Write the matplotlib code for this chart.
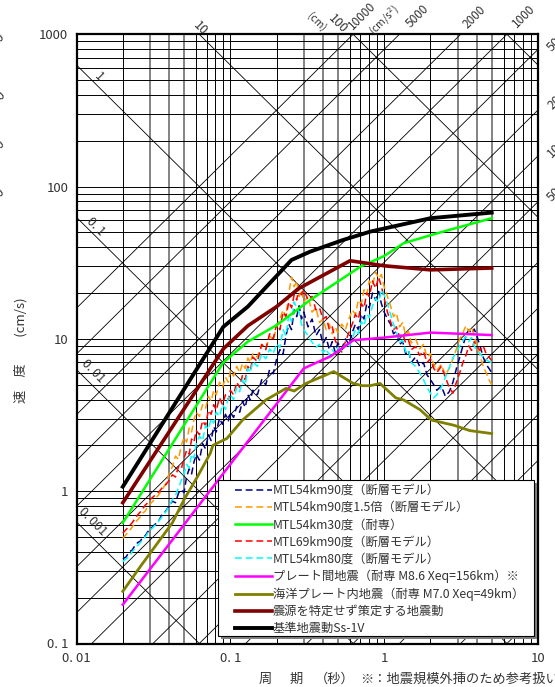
"""Tripartite pseudo-velocity response spectrum (vertical), MTL / plate quakes vs Ss-1V."""
import numpy as np
import matplotlib
matplotlib.use("Agg")
import matplotlib.pyplot as plt
from matplotlib.patches import Rectangle

plt.rcParams['font.family'] = ['Noto Sans CJK JP', 'DejaVu Sans']

# ---- fault-model spectra: period (s) and pseudo velocity (cm/s) ----
T_fm = [0.02, 0.021, 0.022, 0.023, 0.024, 0.025, 0.026, 0.027, 0.028, 0.029, 0.03,
        0.032, 0.034, 0.036, 0.038, 0.04, 0.042, 0.044, 0.046, 0.048, 0.05, 0.052, 0.054,
        0.056, 0.058, 0.06,
        0.063, 0.066, 0.069, 0.072, 0.075, 0.078, 0.081,
        0.085, 0.089, 0.093, 0.097,
        0.1, 0.105, 0.11, 0.115, 0.12, 0.125, 0.13, 0.135, 0.14,
        0.15, 0.16, 0.17, 0.18, 0.19, 0.2, 0.21, 0.22, 0.23, 0.24, 0.25, 0.26, 0.27, 0.28,
        0.29, 0.3,
        0.32, 0.34, 0.36, 0.38, 0.4, 0.42, 0.44, 0.46, 0.48, 0.5,
        0.53, 0.56, 0.59, 0.62, 0.65, 0.68, 0.71, 0.74, 0.77, 0.8,
        0.84, 0.88, 0.92, 0.96, 1.0,
        1.05, 1.1, 1.15, 1.2,
        1.26, 1.32, 1.38, 1.44, 1.5,
        1.6, 1.7, 1.8, 1.9, 2.0, 2.1, 2.2,
        2.35, 2.5, 2.65, 2.8, 2.95, 3.1, 3.25, 3.4, 3.55, 3.7, 3.85, 4.0,
        4.2, 4.4, 4.6, 4.8, 5.0]
V_mtl54_90 = [0.36, 0.37, 0.40, 0.41, 0.44, 0.46, 0.47, 0.50, 0.51, 0.54, 0.56,
              0.60, 0.63, 0.70, 0.74, 0.80, 0.86, 0.84, 0.97, 1.02, 0.98, 1.25, 1.40,
              1.30, 1.55, 1.75,
              1.60, 2.05, 1.90, 2.35, 2.15, 2.65, 2.45,
              3.00, 2.75, 3.20, 2.90,
              3.30, 3.05, 3.60, 3.30, 3.90, 3.55, 4.30, 3.95, 4.60,
              4.30, 5.40, 5.00, 6.30, 5.90, 7.40, 8.50, 7.90, 10.5, 12.5, 11.5, 15.5, 14.0, 16.5,
              13.5, 15.0,
              12.0, 13.5, 10.5, 11.5, 9.3, 10.2, 8.5, 9.6, 8.2, 9.4,
              8.6, 10.0, 9.2, 11.0, 12.5, 11.5, 14.5, 13.5, 17.0, 16.0,
              20.0, 18.0, 20.5, 17.0, 15.0,
              13.5, 12.5, 10.8, 11.2,
              9.2, 9.6, 8.0, 8.4, 7.0,
              7.6, 6.6, 7.0, 5.8, 5.4, 5.0, 4.6,
              4.9, 4.2, 4.5, 5.2, 6.4, 7.6, 9.0, 10.5, 11.5, 10.8, 11.6, 10.5,
              9.0, 7.6, 6.8, 6.4, 6.0]
V_mtl54_90x15 = [0.49, 0.52, 0.55, 0.58, 0.62, 0.65, 0.68, 0.72, 0.74, 0.79, 0.82,
                 0.88, 0.94, 1.02, 1.12, 1.30, 1.45, 1.70, 1.62, 2.00, 2.25, 2.10, 2.60,
                 2.45, 2.95, 3.30,
                 3.10, 3.70, 3.50, 4.20, 3.90, 4.60, 4.30,
                 5.20, 4.80, 5.60, 5.20,
                 6.20, 5.70, 6.60, 6.00, 6.90, 6.40, 7.50, 7.00, 8.00,
                 7.60, 9.20, 8.60, 10.5, 9.8, 12.0, 13.5, 15.5, 14.0, 20.0, 25.5, 22.0, 24.0,
                 19.0, 21.0, 17.5,
                 19.0, 15.0, 16.0, 12.8, 13.5, 11.5, 12.5, 10.8, 12.0, 11.0,
                 12.5, 11.5, 13.5, 15.5, 14.5, 18.0, 17.0, 21.0, 19.5, 24.0,
                 22.5, 27.5, 25.0, 26.5, 22.0,
                 19.0, 16.5, 14.0, 14.8,
                 12.0, 12.8, 10.5, 11.2, 9.4,
                 10.0, 8.6, 9.2, 7.6, 8.0, 6.8, 6.2,
                 6.8, 5.8, 6.4, 7.4, 8.6, 10.0, 11.0, 12.2, 11.2, 12.0, 10.5, 9.0,
                 7.8, 6.6, 6.0, 5.4, 5.0]
V_mtl69_90 = [0.53, 0.56, 0.59, 0.62, 0.66, 0.70, 0.73, 0.77, 0.81, 0.84, 0.88,
              0.93, 0.98, 1.05, 1.10, 1.18, 1.28, 1.24, 1.45, 1.40, 1.65, 1.85, 1.75,
              2.20, 2.10, 2.50,
              2.35, 2.90, 2.70, 3.40, 3.20, 3.70, 3.40,
              4.10, 3.70, 4.30, 3.95,
              4.60, 4.30, 5.20, 4.80, 5.80, 5.40, 6.60, 6.20, 7.60,
              7.10, 9.20, 8.50, 10.8, 10.0, 12.5, 11.5, 15.0, 14.0, 17.5, 16.0, 19.5, 18.0,
              22.0, 19.5, 21.0,
              18.0, 19.0, 15.5, 16.0, 13.5, 14.0, 11.5, 12.0, 9.8, 9.0,
              8.2, 9.6, 11.0, 12.5, 14.5, 13.5, 17.0, 16.0, 20.0, 19.0,
              24.0, 21.5, 25.5, 22.0, 18.5,
              15.0, 13.0, 11.5, 12.0,
              10.3, 10.8, 9.4, 9.8, 8.5,
              8.9, 7.8, 8.3, 7.0, 7.4, 6.4, 6.0,
              6.6, 5.6, 4.8, 4.4, 5.2, 6.0, 7.0, 7.8, 9.0, 8.4, 9.6, 9.0,
              8.4, 9.0, 8.0, 7.6, 7.2]
V_mtl54_80 = [0.345, 0.36, 0.37, 0.40, 0.42, 0.44, 0.46, 0.48, 0.50, 0.53, 0.55,
              0.59, 0.63, 0.68, 0.73, 0.80, 0.88, 0.94, 1.05, 1.18, 1.30, 1.50, 1.42,
              1.75, 1.65, 2.05,
              2.30, 2.15, 2.70, 2.55, 3.00, 2.80, 3.30,
              3.10, 3.70, 3.45, 4.10,
              4.30, 4.00, 4.80, 4.50, 5.40, 5.00, 6.40, 6.00, 7.10,
              6.60, 8.00, 7.40, 8.60, 8.00, 9.30, 8.80, 11.5, 10.5, 14.5, 13.0, 17.5, 16.0,
              15.0, 12.5, 11.5,
              10.5, 9.5, 8.8, 9.2, 8.1, 8.6, 7.8, 8.5, 8.0, 8.8,
              8.3, 9.2, 8.7, 10.0, 11.5, 10.8, 13.0, 12.2, 14.5, 13.8,
              16.5, 18.5, 17.5, 21.0, 19.5,
              17.0, 14.5, 12.5, 11.0,
              9.5, 9.8, 8.2, 8.5, 7.0,
              6.6, 6.0, 5.4, 4.8, 4.4, 4.1, 4.3,
              4.8, 5.6, 6.5, 7.5, 8.2, 9.0, 9.8, 10.3, 9.6, 10.2, 9.0, 8.4,
              8.0, 7.6, 7.3, 7.1, 7.0]

# ---- smooth design spectra ----
T_mtl54_30 = [0.02, 0.09, 0.13, 0.2, 0.33, 0.7, 1.0, 1.34, 2.2, 5.0]
V_mtl54_30 = [0.62, 7.0, 9.6, 12.3, 18.0, 29.8, 35.0, 42.5, 49.3, 62.0]

T_plate = [0.02, 0.3, 0.45, 0.63, 1.0, 2.0, 5.0]
V_plate = [0.18, 6.4, 7.7, 9.8, 10.2, 11.0, 10.6]

T_slab = [0.02, 0.026, 0.042, 0.05, 0.061, 0.074, 0.077, 0.095, 0.12, 0.17, 0.23, 0.26,
          0.31, 0.47, 0.63, 0.72, 0.81, 0.94, 1.19, 1.34, 1.71, 2.03, 2.84, 3.6, 5.0]
V_slab = [0.22, 0.32, 0.62, 0.88, 1.24, 1.77, 2.0, 2.22, 2.93, 3.97, 4.73, 4.55,
          5.1, 6.1, 5.1, 4.93, 4.93, 5.1, 4.1, 3.97, 3.43, 2.93, 2.71, 2.5, 2.39]

T_unspec = [0.02, 0.09, 0.13, 0.2, 0.28, 0.6, 1.0, 2.0, 5.0]
V_unspec = [0.84, 8.6, 12.2, 16.3, 21.5, 32.6, 30.2, 28.4, 29.2]

T_ss1v = [0.02, 0.09, 0.13, 0.25, 0.33, 0.54, 0.81, 2.0, 5.0]
V_ss1v = [1.07, 12.0, 16.3, 33.0, 37.4, 44.6, 50.6, 62.0, 67.5]

# guide lines of the tripartite grid
DISP = [0.001, 0.01, 0.1, 1, 10, 100, 1000]                      # cm
ACC = [0.1, 0.2, 0.5, 1, 2, 5, 10, 20, 50, 100, 200, 500,
       1000, 2000, 5000, 10000]                                 # cm/s^2

W, H = 555, 687
fig = plt.figure(figsize=(W / 100, H / 100), dpi=100)


def fx(px):
    return px / W


def fy(py):
    return 1 - py / H


ax = fig.add_axes([fx(76.5), fy(643.5), (538 - 76.5) / W, (643.5 - 34.3) / H])
ax.set_xscale("log"); ax.set_yscale("log")
ax.set_xlim(0.01, 10); ax.set_ylim(0.1, 1000)

# rectangular grid
for n in range(-2, 1):
    for k in range(1, 10):
        v = k * 10.0 ** n
        grey = k in (3, 4, 5)
        ax.axvline(v, color="#7a7a7a" if grey else "k", lw=1.3 if grey else 0.7, zorder=1)
for n in range(-1, 3):
    for k in range(1, 10):
        ax.axhline(k * 10.0 ** n, color="k", lw=0.7, zorder=1)

# diagonal displacement / acceleration lines
Tg = np.logspace(-2, 1, 60)
for d in DISP:
    ax.plot(Tg, 2 * np.pi * d / Tg, "k", lw=0.6, zorder=1)
for a in ACC:
    ax.plot(Tg, a * Tg / (2 * np.pi), "k", lw=0.6, zorder=1)

# spectra
dash = (4.5, 2.5)
ax.plot(T_fm, V_mtl54_90, color="#000080", lw=1.1, dashes=dash, zorder=3,
        label="MTL54km90度（断層モデル）")
ax.plot(T_fm, V_mtl54_90x15, color="#FF9900", lw=1.1, dashes=dash, zorder=3,
        label="MTL54km90度1.5倍（断層モデル）")
ax.plot(T_mtl54_30, V_mtl54_30, color="#00FF00", lw=1.8, zorder=4,
        label="MTL54km30度（耐専）")
ax.plot(T_fm, V_mtl69_90, color="#FF0000", lw=1.1, dashes=dash, zorder=3,
        label="MTL69km90度（断層モデル）")
ax.plot(T_fm, V_mtl54_80, color="#00FFFF", lw=1.1, dashes=dash, zorder=3,
        label="MTL54km80度（断層モデル）")
ax.plot(T_plate, V_plate, color="#FF00FF", lw=1.8, zorder=4,
        label="プレート間地震（耐専 M8.6 Xeq=156km）※")
ax.plot(T_slab, V_slab, color="#808000", lw=2.0, zorder=4,
        label="海洋プレート内地震（耐専 M7.0 Xeq=49km）")
ax.plot(T_unspec, V_unspec, color="#800000", lw=2.6, zorder=5,
        label="震源を特定せず策定する地震動")
ax.plot(T_ss1v, V_ss1v, color="k", lw=2.8, zorder=6, label="基準地震動Ss-1V")

for s in ax.spines.values():
    s.set_linewidth(1.6)
    s.set_zorder(7)
ax.tick_params(length=0, labelsize=9.5, pad=6, colors="#333333")
ax.set_xticks([0.01, 0.1, 1, 10])
ax.set_xticklabels(["0. 01", "0. 1", "1", "10"])
ax.set_yticks([0.1, 1, 10, 100, 1000])
ax.set_yticklabels(["0. 1", "1", "10", "100", "1000"])
ax.minorticks_off()

# legend box with a grey drop shadow, legend entries laid on top
ax.add_patch(Rectangle((fx(221), fy(639)), fx(534) - fx(218), fy(480) - fy(636),
                       transform=fig.transFigure, facecolor="#808080",
                       edgecolor="none", zorder=8, clip_on=False))
ax.add_patch(Rectangle((fx(218), fy(636)), fx(534) - fx(218), fy(480) - fy(636),
                       transform=fig.transFigure, facecolor="white",
                       edgecolor="k", lw=0.8, zorder=9, clip_on=False))
leg = ax.legend(loc="upper left", bbox_to_anchor=(fx(235), fy(484)),
                bbox_transform=fig.transFigure, borderaxespad=0, borderpad=0,
                fontsize=8.8, frameon=False, handlelength=3.0, handletextpad=0.1,
                labelspacing=0.34)
leg.set_zorder(10)
for t in leg.get_texts():
    t.set_color("#333333")

# line labels
txt = dict(color="#333333", fontsize=9, ha="center", va="center")
fig.text(fx(99), fy(77), "1", rotation=-45, **txt)
fig.text(fx(96), fy(227), "0. 1", rotation=-45, **txt)
fig.text(fx(93), fy(371), "0. 01", rotation=-45, **txt)
fig.text(fx(93), fy(522), "0. 001", rotation=-45, **txt)
fig.text(fx(200), fy(28), "10", rotation=-45, **txt)
fig.text(fx(317), fy(22), "(cm)", rotation=-45, color="#333333", fontsize=7.5,
         ha="center", va="center")
fig.text(fx(338), fy(24), "100", rotation=-45, **txt)
top = dict(color="#333333", fontsize=8.5, ha="center", va="center", rotation=45)
fig.text(fx(362), fy(16), "10000", **top)
fig.text(fx(384), fy(20), "(cm/s$^2$)", rotation=45, color="#333333", fontsize=7.5,
         ha="center", va="center")
fig.text(fx(418), fy(16), "5000", **top)
fig.text(fx(474), fy(17), "2000", **top)
fig.text(fx(524), fy(16), "1000", **top)
for lab, yy in [("500", 42), ("200", 100), ("100", 148), ("50", 195)]:
    fig.text(fx(545), fy(yy), lab, rotation=45, color="#333333", fontsize=9,
             ha="left", va="center")
    fig.text(fx(8), fy(yy), lab, rotation=45, color="#333333", fontsize=9,
             ha="right", va="center")

# axis titles
fig.text(fx(21), fy(350), "速　度　　(cm/s)", rotation=90, color="#333333",
         fontsize=9.5, ha="center", va="center")
lab = dict(color="#333333", fontsize=9.5, va="center")
fig.text(fx(259), fy(679), "周", ha="left", **lab)
fig.text(fx(289), fy(679), "期", ha="left", **lab)
fig.text(fx(315), fy(679), "（秒）", ha="left", **lab)
fig.text(fx(360), fy(679), "※：地震規模外挿のため参考扱い", ha="left", **lab)

fig.savefig("out.png", dpi=100, facecolor="white")
